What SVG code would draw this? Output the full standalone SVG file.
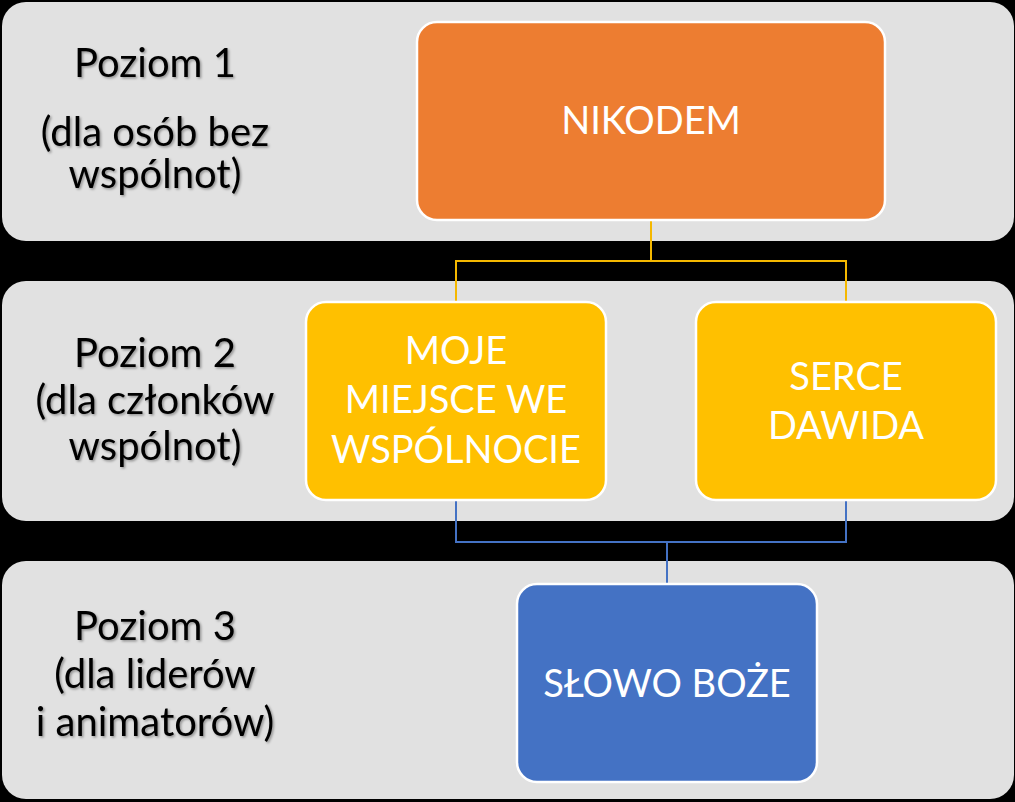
<svg xmlns="http://www.w3.org/2000/svg" width="1015" height="802" viewBox="0 0 1015 802">
<defs>
<style>
.band{fill:#e1e1e1}
.lbl{font-family:Lato,"Liberation Sans",sans-serif;font-size:40px;fill:#000;text-anchor:middle}
.node{stroke:#fff;stroke-width:2.5}
.nt{font-family:Lato,"Liberation Sans",sans-serif;font-size:38px;fill:#fff;text-anchor:middle}
.cy{fill:none;stroke:#f5b800;stroke-width:2}
.cb{fill:none;stroke:#4472c4;stroke-width:2}
</style>
<filter id="sh" x="-10%" y="-10%" width="120%" height="130%">
<feDropShadow dx="1.5" dy="1.5" stdDeviation="1" flood-color="#000" flood-opacity="0.35"/>
</filter>
</defs>
<rect width="1015" height="802" fill="#000"/>
<g id="band1"><rect class="band" x="2" y="2" width="1012" height="239" rx="24"/>
<g filter="url(#sh)"><text class="lbl" x="155" y="77">Poziom 1</text>
<text class="lbl" x="155" y="146">(dla osób bez</text>
<text class="lbl" x="155" y="188">wspólnot)</text></g></g>
<g id="band2"><rect class="band" x="2" y="281" width="1012" height="240" rx="24"/>
<g filter="url(#sh)"><text class="lbl" x="155" y="367">Poziom 2</text>
<text class="lbl" x="155" y="414">(dla członków</text>
<text class="lbl" x="155" y="460">wspólnot)</text></g></g>
<g id="band3"><rect class="band" x="2" y="561" width="1012" height="238" rx="24"/>
<g filter="url(#sh)"><text class="lbl" x="155" y="640">Poziom 3</text>
<text class="lbl" x="155" y="688">(dla liderów</text>
<text class="lbl" x="155" y="736">i animatorów)</text></g></g>
<g id="connectors">
<path class="cy" d="M651 220 V261 M456 302 V261 H846 V302"/>
<path class="cb" d="M456 500 V542 H846 V500 M667 542 V584"/>
</g>
<g id="nikodem"><rect class="node" x="417" y="22" width="468" height="198" rx="20" fill="#ed7d31"/>
<text class="nt" x="651" y="134">NIKODEM</text></g>
<g id="moje"><rect class="node" x="306" y="302" width="300" height="198" rx="20" fill="#ffc000"/>
<text class="nt" x="456" y="364">MOJE</text>
<text class="nt" x="456" y="413">MIEJSCE WE</text>
<text class="nt" x="456" y="463">WSPÓLNOCIE</text></g>
<g id="serce"><rect class="node" x="696" y="302" width="300" height="198" rx="20" fill="#ffc000"/>
<text class="nt" x="846" y="390">SERCE</text>
<text class="nt" x="846" y="439">DAWIDA</text></g>
<g id="slowo"><rect class="node" x="517" y="584" width="300" height="198" rx="20" fill="#4472c4"/>
<text class="nt" x="667" y="697">SŁOWO BOŻE</text></g>
</svg>
